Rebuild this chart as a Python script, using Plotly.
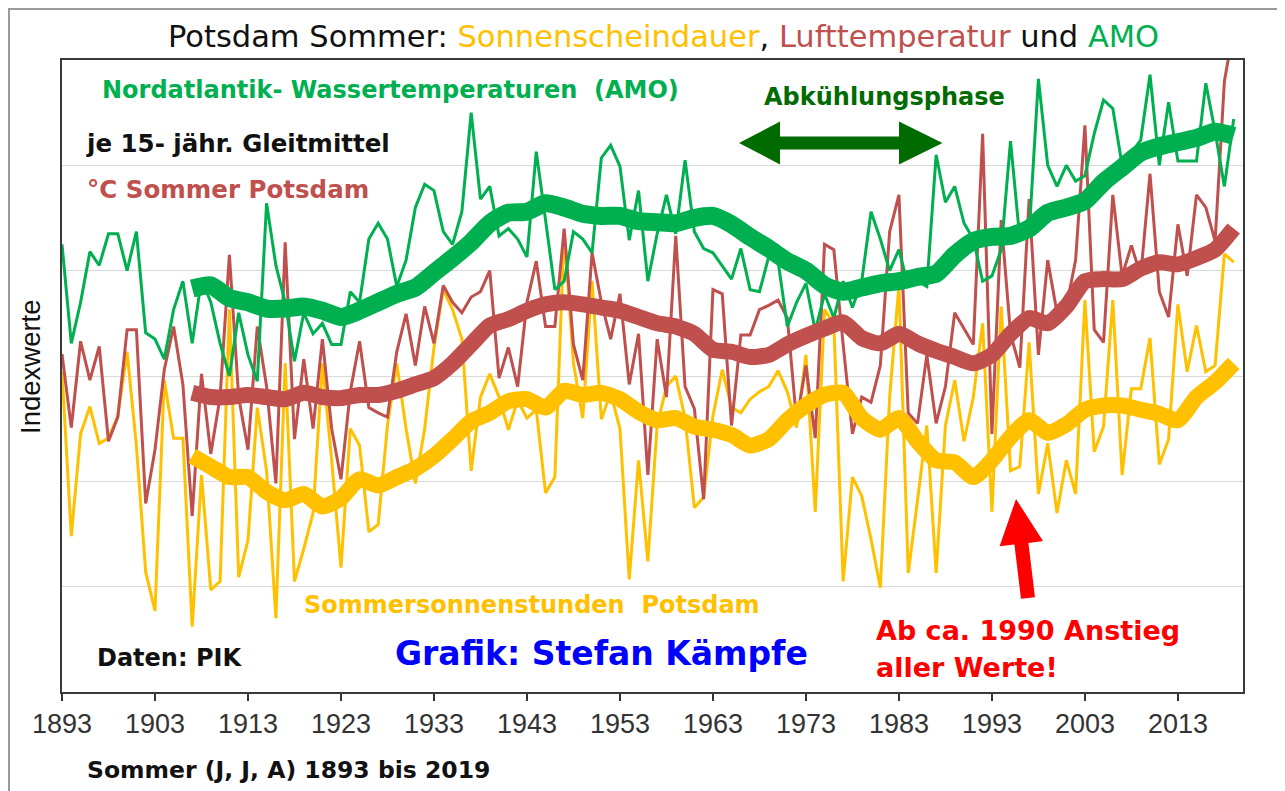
import plotly.graph_objects as go

# ---------------- data (index units) ----------------
years = list(range(1893, 2020))

amo_raw = [
    4.25, 3.31, 3.70, 4.18, 4.05, 4.35, 4.35,
    4.00, 4.37, 3.41, 3.35, 3.16, 3.63, 3.90, 3.31, 3.92, 3.70,
    3.31, 3.00, 3.60, 3.20, 2.95, 4.64, 4.05, 3.70, 3.14, 3.60,
    3.40, 3.50, 3.30, 3.30, 3.80, 3.70, 4.30, 4.45, 4.30, 3.85,
    4.10, 4.60, 4.82, 4.76, 4.37, 4.25, 4.56, 5.50, 4.68, 4.80,
    4.33, 4.40, 4.30, 4.13, 5.13, 4.48, 3.82, 3.90, 4.37, 4.30,
    4.17, 5.07, 5.19, 4.99, 4.29, 4.76, 3.90, 4.35, 4.72, 4.35,
    5.05, 4.37, 4.21, 4.17, 4.05, 3.92, 4.21, 3.82, 3.80, 4.13,
    4.09, 3.47, 3.70, 3.88, 3.43, 3.78, 3.55, 3.90, 3.65, 3.90,
    4.56, 4.30, 4.00, 4.20, 3.85, 3.90, 3.85, 5.10, 4.65, 4.80,
    4.45, 4.30, 3.90, 3.95, 4.20, 5.23, 4.30, 4.35, 5.82, 5.00,
    4.80, 5.00, 4.85, 4.90, 5.30, 5.62, 5.54, 5.00, 5.12, 5.24,
    5.86, 5.00, 5.60, 5.04, 5.04, 5.04, 5.78, 5.32, 4.80, 5.44,
]

temp_raw = [
    3.21, 2.51, 3.33, 2.96, 3.28, 2.38, 2.61,
    3.44, 3.44, 1.79, 2.30, 3.06, 3.47, 2.92, 1.67, 3.02, 2.26,
    2.80, 4.15, 2.80, 2.30, 3.47, 2.90, 1.98, 4.27, 2.40, 3.16,
    2.50, 3.35, 2.50, 2.02, 2.85, 3.33, 2.70, 2.65, 2.61, 3.23,
    3.59, 3.10, 3.66, 3.31, 3.86, 3.70, 3.60, 3.75, 3.80, 4.00,
    2.98, 3.27, 2.90, 3.70, 4.09, 3.47, 3.47, 4.40, 3.30, 2.96,
    4.17, 3.70, 3.35, 3.78, 2.92, 3.40, 2.06, 3.35, 2.80, 4.33,
    2.90, 2.69, 1.83, 3.82, 3.78, 2.53, 3.39, 3.39, 3.63, 3.67,
    3.72, 3.55, 2.57, 3.10, 2.41, 4.25, 4.20, 3.30, 2.45, 2.80,
    2.75, 3.10, 4.37, 4.72, 2.65, 2.55, 3.20, 2.55, 2.90, 3.60,
    3.45, 3.30, 5.30, 2.45, 4.48, 3.40, 3.08, 4.68, 3.20, 4.10,
    3.60, 3.65, 4.10, 5.38, 3.44, 3.32, 4.72, 3.95, 4.24, 3.95,
    4.92, 3.80, 3.56, 4.44, 3.95, 4.72, 4.60, 4.28, 5.80, 6.30,
]

sun_raw = [
    3.04, 1.48, 2.45, 2.71, 2.36, 2.41, 2.62,
    3.23, 2.34, 1.14, 0.77, 2.96, 2.41, 2.41, 0.62, 2.06, 0.97,
    1.05, 3.63, 1.09, 1.44, 2.70, 2.10, 0.70, 3.12, 1.05, 1.36,
    1.70, 3.12, 2.20, 1.18, 2.50, 2.34, 1.52, 1.59, 2.53, 3.12,
    2.50, 1.98, 2.50, 3.27, 3.82, 3.63, 3.35, 2.10, 2.80, 3.02,
    2.80, 2.49, 2.77, 2.60, 2.68, 1.89, 2.04, 4.37, 3.12, 2.60,
    3.90, 2.59, 2.84, 2.50, 1.07, 2.20, 1.24, 2.53, 2.90, 3.00,
    2.60, 1.75, 1.85, 2.62, 3.06, 2.70, 2.65, 2.78, 2.85, 2.90,
    3.05, 2.85, 2.51, 3.20, 1.71, 3.63, 3.50, 1.05, 2.04, 1.86,
    1.45, 0.99, 2.80, 3.86, 1.13, 1.82, 2.53, 1.13, 2.53, 2.96,
    2.38, 2.80, 3.50, 1.71, 3.66, 2.10, 2.14, 3.32, 1.88, 2.36,
    1.70, 2.20, 1.88, 3.72, 2.28, 2.52, 3.72, 2.06, 2.88, 2.88,
    3.36, 2.16, 2.40, 3.68, 3.04, 3.48, 3.04, 3.10, 4.16, 4.08,
]

# 15-year running means as drawn in the reference (read every second year)
smooth_years = list(range(1907, 2020, 2))

amo_smooth = [
    3.83, 3.86, 3.74, 3.70, 3.64, 3.64, 3.66,
    3.62, 3.56, 3.62, 3.70, 3.78,
    3.84, 3.98, 4.12, 4.27, 4.45,
    4.55, 4.56, 4.64, 4.60, 4.54,
    4.52, 4.52, 4.47, 4.46, 4.45,
    4.50, 4.52, 4.44, 4.32, 4.21,
    4.09, 4.00, 3.86, 3.80, 3.84,
    3.88, 3.90, 3.94, 3.97, 4.15,
    4.28, 4.32, 4.33, 4.40, 4.55,
    4.60, 4.66, 4.84, 4.98, 5.12,
    5.18, 5.22, 5.26, 5.32, 5.28,
]

temp_smooth = [
    2.84, 2.80, 2.80, 2.82, 2.80, 2.78, 2.84,
    2.80, 2.79, 2.82, 2.82, 2.86,
    2.92, 2.98, 3.12, 3.30, 3.48,
    3.54, 3.62, 3.68, 3.70, 3.68,
    3.65, 3.62, 3.56, 3.50, 3.47,
    3.40, 3.25, 3.23, 3.18, 3.20,
    3.30, 3.38, 3.45, 3.51, 3.36,
    3.31, 3.40, 3.31, 3.24, 3.18,
    3.12, 3.20, 3.40, 3.55, 3.50,
    3.66, 3.90, 3.92, 3.92, 4.02,
    4.08, 4.06, 4.12, 4.20, 4.40,
]

sun_smooth = [
    2.24, 2.14, 2.04, 2.04, 1.90, 1.82, 1.88,
    1.76, 1.84, 2.02, 1.96, 2.04,
    2.12, 2.24, 2.40, 2.57, 2.65,
    2.76, 2.78, 2.70, 2.86, 2.82,
    2.84, 2.78, 2.66, 2.58, 2.60,
    2.52, 2.49, 2.44, 2.34, 2.40,
    2.58, 2.72, 2.82, 2.84, 2.60,
    2.49, 2.60, 2.38, 2.20, 2.18,
    2.04, 2.20, 2.42, 2.58, 2.46,
    2.54, 2.68, 2.72, 2.72, 2.68,
    2.64, 2.58, 2.80, 2.94, 3.12,
]

tick_years = list(range(1893, 2020, 10))

# ---------------- styling ----------------
GREEN = "#00B050"
RED = "#C0504D"
GOLD = "#FFC000"
DKGREEN = "#006B00"

# the page puts the figure 8 px from the top-left corner of the window
OFF = 8
W, H = 1285 - OFF, 791 - OFF
L, R, T, B = 62, 1243, 60, 692          # plot area in window pixels


def fx(x):
    return (x - L) / (R - L)


def fy(y):
    return (B - y) / (B - T)


fig = go.Figure()

fig.add_trace(go.Scatter(x=years, y=sun_raw, mode="lines",
                         line=dict(color=GOLD, width=3), hoverinfo="skip"))
fig.add_trace(go.Scatter(x=years, y=temp_raw, mode="lines",
                         line=dict(color=RED, width=3), hoverinfo="skip"))
fig.add_trace(go.Scatter(x=years, y=amo_raw, mode="lines",
                         line=dict(color=GREEN, width=3), hoverinfo="skip"))

fig.add_trace(go.Scatter(x=smooth_years, y=sun_smooth, mode="lines",
                         line=dict(color=GOLD, width=16, shape="spline", smoothing=0.6),
                         hoverinfo="skip"))
fig.add_trace(go.Scatter(x=smooth_years, y=temp_smooth, mode="lines",
                         line=dict(color=RED, width=16, shape="spline", smoothing=0.6),
                         hoverinfo="skip"))
fig.add_trace(go.Scatter(x=smooth_years, y=amo_smooth, mode="lines",
                         line=dict(color=GREEN, width=18, shape="spline", smoothing=0.6),
                         hoverinfo="skip"))

BOLD = "DejaVu Sans"
annos = []


def txt(text, x, y, color, size, xanchor="left", family=BOLD, bold=True, angle=0):
    t = f"<b>{text}</b>" if bold else text
    annos.append(dict(text=t, x=fx(x), y=fy(y), xref="paper", yref="paper",
                      xanchor=xanchor, yanchor="middle", showarrow=False,
                      textangle=angle,
                      font=dict(family=family, size=size, color=color)))


title = ("Potsdam Sommer: <span style='color:#FFC000'>Sonnenscheindauer</span>, "
         "<span style='color:#C0504D'>Lufttemperatur</span> und "
         "<span style='color:#00B050'>AMO</span>")
txt(title, 663, 36, "#111111", 30.5, xanchor="center", bold=False)

txt("Nordatlantik- Wassertemperaturen  (AMO)", 100, 90, GREEN, 24)
txt("je 15- jähr. Gleitmittel", 84, 143, "#111111", 24.5)
txt("°C Sommer Potsdam", 85, 189, RED, 24.5)
txt("Abkühlungsphase", 762, 97, DKGREEN, 24)
txt("Sommersonnenstunden  Potsdam", 302, 605, GOLD, 24)
txt("Daten: PIK", 95, 658, "#111111", 24)
txt("Grafik: Stefan Kämpfe", 393, 653, "#0000FF", 33)
txt("Ab ca. 1990 Anstieg", 874, 630, "#FF0000", 27)
txt("aller Werte!", 874, 667, "#FF0000", 27)
txt("Sommer (J, J, A) 1893 bis 2019", 85, 770, "#111111", 23.5)
txt("Indexwerte", 30, 367, "#111111", 27.5, xanchor="center",
    family="Liberation Sans", bold=False, angle=-90)


def path(points):
    return "M " + " L ".join(f"{fx(x):.5f},{fy(y):.5f}" for x, y in points) + " Z"


green_arrow = [(739, 143), (780, 121.5), (780, 136.5), (899, 136.5), (899, 121.5),
               (942.5, 143), (899, 164.5), (899, 149.5), (780, 149.5), (780, 164.5)]
red_arrow = [(1016, 499), (1043, 541), (1028.4, 542.9), (1035, 597.2),
             (1021, 598.8), (1014.4, 544.5), (999.6, 546.3)]

shapes = [
    dict(type="path", path=path(green_arrow), xref="paper", yref="paper",
         fillcolor=DKGREEN, line=dict(width=0)),
    dict(type="path", path=path(red_arrow), xref="paper", yref="paper",
         fillcolor="#FF0000", line=dict(width=0)),
    dict(type="rect", xref="paper", yref="paper", x0=fx(OFF + 1), x1=fx(1278),
         y0=fy(800), y1=fy(OFF + 1), line=dict(color="#9A9A9A", width=2),
         layer="below"),
]

fig.update_layout(
    width=W, height=H,
    margin=dict(l=L - OFF, r=1285 - R, t=T - OFF, b=791 - B, pad=0),
    paper_bgcolor="white", plot_bgcolor="white",
    showlegend=False,
    annotations=annos,
    shapes=shapes,
    xaxis=dict(range=[1893, 2020], tickvals=tick_years, ticktext=[str(t) for t in tick_years],
               ticks="outside", ticklen=7, tickwidth=2, tickcolor="#333333",
               showline=True, linecolor="#3A3A3A", linewidth=2, mirror=True,
               showgrid=False, zeroline=False,
               tickfont=dict(family="Liberation Sans", size=27, color="#333333")),
    yaxis=dict(range=[0, 6], tickvals=[1, 2, 3, 4, 5], showticklabels=False,
               ticks="", showgrid=True, gridcolor="#D9D9D9", gridwidth=1.2,
               showline=True, linecolor="#3A3A3A", linewidth=2, mirror=True,
               zeroline=False),
)

fig.write_html("out.html")
